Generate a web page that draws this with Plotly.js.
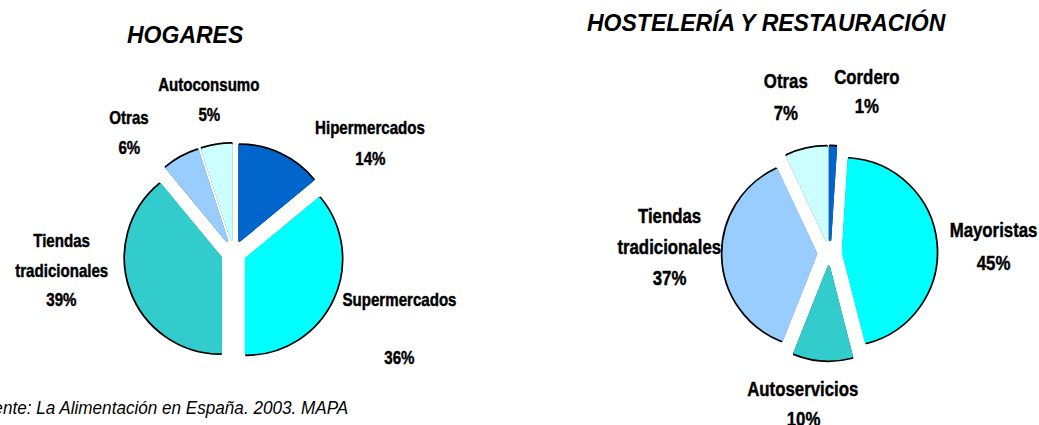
<!DOCTYPE html>
<html>
<head>
<meta charset="utf-8">
<script src="https://cdn.plot.ly/plotly-3.0.1.min.js"></script>
<style>
html,body{margin:0;padding:0;background:#fff;}
#chart{width:1039px;height:425px;}
</style>
</head>
<body>
<div id="chart"></div>
<script>
// ---- data ----
const hogarTitle = 'HOGARES';
const hogarLabels = ['Hipermercados', 'Supermercados', 'Tiendas tradicionales', 'Otras', 'Autoconsumo'];
const hogarValues = [14, 36, 39, 6, 5];
const hogarColors = ['#0066CC', '#00FFFF', '#33CCCC', '#99CCFF', '#CCFFFF'];

const hostTitle = 'HOSTELERÍA Y RESTAURACIÓN';
const hostLabels = ['Cordero', 'Mayoristas', 'Autoservicios', 'Tiendas tradicionales', 'Otras'];
const hostValues = [1, 45, 10, 37, 7];
const hostColors = ['#0066CC', '#00FFFF', '#33CCCC', '#99CCFF', '#CCFFFF'];

const sourceText = 'Fuente: La Alimentación en España. 2003. MAPA';

// ---- layout helpers ----
const W = 1039, H = 425;
const PULL = 0.145;
const sans = '"Liberation Sans", Arial, Helvetica, sans-serif';
const NARROW = 0.82;   // horizontal compression to imitate a narrow face

function domainFor(cx, cy, r) {
  const half = r * (1 + PULL);
  return {
    x: [(cx - half) / W, (cx + half) / W],
    y: [1 - (cy + half) / H, 1 - (cy - half) / H]
  };
}

function pieTraces(labels, values, colors, cx, cy, r) {
  const pulls = values.map(() => PULL);
  const common = {
    type: 'pie', labels: labels, values: values, sort: false,
    direction: 'clockwise', rotation: 0, pull: pulls,
    textinfo: 'none', hoverinfo: 'skip', showlegend: false
  };
  const base = Object.assign({}, common, {
    domain: domainFor(cx, cy, r),
    marker: {colors: colors, line: {color: '#000', width: 2.4}}
  });
  const overlay = Object.assign({}, common, {
    domain: domainFor(cx, cy, r - 1.6),
    marker: {colors: colors, line: {color: colors, width: 2.6}}
  });
  return [base, overlay];
}

// label placement (pixel positions of each text line, last one is the percentage)
const hogarPos = [
  {x: 370, ys: [128, 158]},
  {x: 399, ys: [299, 357]},
  {x: 61, ys: [240, 270, 299]},
  {x: 129, ys: [118, 147]},
  {x: 209, ys: [85, 114]}
];
const hostPos = [
  {x: 867, ys: [77, 106]},
  {x: 993, ys: [230, 262]},
  {x: 803, ys: [388, 418]},
  {x: 669, ys: [215, 246, 277]},
  {x: 786, ys: [81, 112]}
];

const squeeze = [];  // per-annotation horizontal compression
function labelAnnotations(labels, values, pos, size) {
  const out = [];
  labels.forEach((lab, i) => {
    const p = pos[i];
    const words = p.ys.length > 2 ? lab.split(' ') : [lab];
    const lines = words.concat([values[i] + '%']);
    lines.forEach((t, j) => {
      out.push({
        xref: 'paper', yref: 'paper', x: p.x / W, y: 1 - p.ys[j] / H,
        xanchor: 'center', yanchor: 'middle', showarrow: false,
        text: '<b>' + t + '</b>',
        font: {family: sans, size: size, color: '#000'}
      });
    });
  });
  return out;
}

const traces = []
  .concat(pieTraces(hogarLabels, hogarValues, hogarColors, 233.7, 253, 96))
  .concat(pieTraces(hostLabels, hostValues, hostColors, 829.6, 253.3, 94));

const labelAnns = []
  .concat(labelAnnotations(hogarLabels, hogarValues, hogarPos, 18.4))
  .concat(labelAnnotations(hostLabels, hostValues, hostPos, 20.5));
labelAnns.forEach(() => squeeze.push({f: NARROW, anchor: 'center', heavy: true}));

const otherAnns = [
  {xref: 'paper', yref: 'paper', x: 185 / W, y: 1 - 35 / H, xanchor: 'center', yanchor: 'middle',
   showarrow: false, text: '<b><i>' + hogarTitle + '</i></b>', font: {family: sans, size: 23, color: '#000'}},
  {xref: 'paper', yref: 'paper', x: 766.7 / W, y: 1 - 23 / H, xanchor: 'center', yanchor: 'middle',
   showarrow: false, text: '<b><i>' + hostTitle + '</i></b>', font: {family: sans, size: 23, color: '#000'}},
  {xref: 'paper', yref: 'paper', x: 349.5 / W, y: 1 - 407 / H, xanchor: 'right', yanchor: 'middle',
   showarrow: false, text: '<i>' + sourceText + '</i>', font: {family: sans, size: 18.5, color: '#000'}}
];
squeeze.push(null, null, {f: 0.925, anchor: 'right', heavy: false});

const layout = {
  width: W, height: H,
  margin: {l: 0, r: 0, t: 0, b: 0},
  paper_bgcolor: '#fff', plot_bgcolor: '#fff',
  showlegend: false,
  annotations: labelAnns.concat(otherAnns)
};

Plotly.newPlot('chart', traces, layout, {displayModeBar: false, staticPlot: true}).then(gd => {
  gd.querySelectorAll('.annotation').forEach(g => {
    const idx = +g.getAttribute('data-index');
    const s = squeeze[idx];
    if (!s) return;
    const txt = g.querySelector('text.annotation-text');
    if (!txt) return;
    const before = txt.getBBox();
    const len = txt.getComputedTextLength();
    txt.setAttribute('lengthAdjust', 'spacingAndGlyphs');
    txt.setAttribute('textLength', (len * s.f).toFixed(2));
    if (s.heavy) {
      txt.style.stroke = '#000';
      txt.style.strokeWidth = '0.45px';
    }
    const after = txt.getBBox();
    let dx = 0;
    if (s.anchor === 'right') dx = (before.x + before.width) - (after.x + after.width);
    else if (s.anchor === 'center') dx = (before.x + before.width / 2) - (after.x + after.width / 2);
    if (Math.abs(dx) > 0.05) txt.setAttribute('transform', 'translate(' + dx.toFixed(2) + ',0)');
  });
});
</script>
</body>
</html>
